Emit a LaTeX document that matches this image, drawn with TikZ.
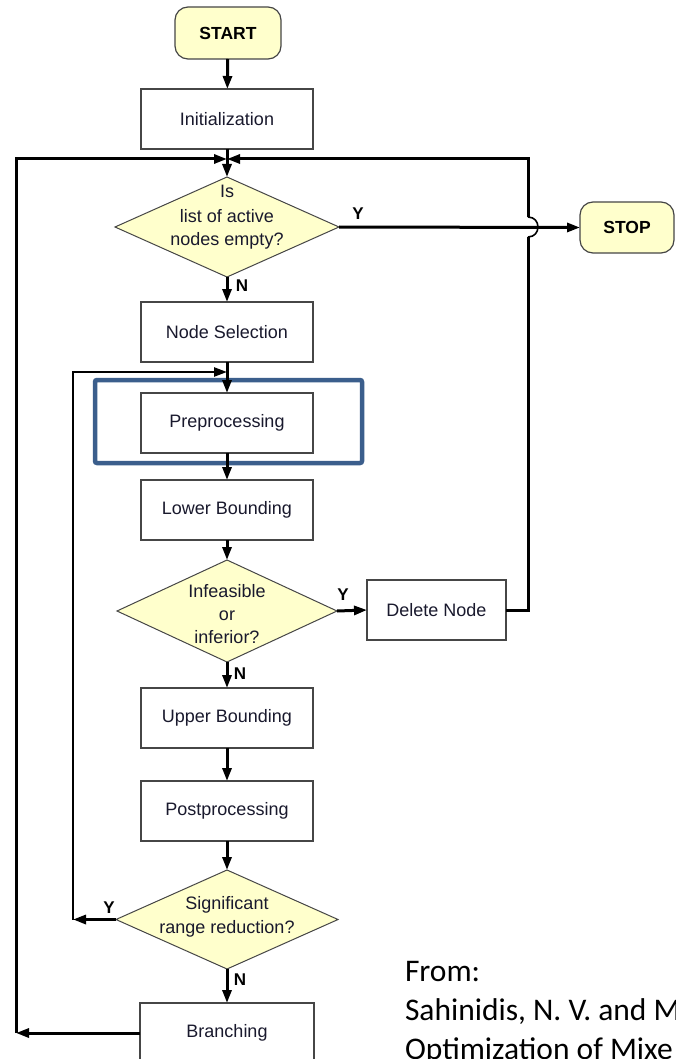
\documentclass[tikz,border=0pt]{standalone}
\usepackage{fontspec}
\setmainfont{Liberation Sans}
\newfontfamily\citefont{Carlito}
\usetikzlibrary{shapes.geometric,arrows.meta}
\definecolor{termfill}{RGB}{255,255,204}
\definecolor{boxline}{RGB}{70,70,70}
\definecolor{hilite}{RGB}{59,94,140}
\definecolor{boxtext}{RGB}{25,25,45}
\begin{document}
\begin{tikzpicture}[x=1pt,y=-1pt,
  every node/.style={inner sep=0pt,outer sep=0pt},
  proc/.style={draw=boxline,line width=1.2pt,fill=white,minimum width=172pt,minimum height=60pt,
    text=boxtext,font=\fontsize{18}{24}\selectfont},
  term/.style={draw=boxline,line width=1.2pt,fill=termfill,rounded corners=13pt,
    text=black,font=\bfseries\fontsize{17.5}{21}\selectfont},
  decision/.style={diamond,draw=boxline,line width=1pt,fill=termfill},
  qtext/.style={align=center,text=boxtext,font=\fontsize{18}{24}\selectfont},
  wire/.style={line width=3pt},
  flow/.style={line width=3pt,-{Triangle[length=13pt,width=9pt]}},
  lbl/.style={text=black,font=\bfseries\fontsize{17}{20}\selectfont},
  cite/.style={anchor=base west,text=black,font=\citefont\fontsize{31.5}{39}\selectfont}
]
\useasboundingbox (0,0) rectangle (675,1059);
\fill[white] (0,0) rectangle (675,1059);
\clip (0,0) rectangle (675,1059);

% terminals and process boxes
\node[term,minimum width=106pt,minimum height=52pt] (start) at (228,33) {START};
\node[proc] (init) at (227,119) {Initialization};
\node[decision,minimum width=224pt,minimum height=100pt] (d1) at (227,227) {};
\node[qtext,anchor=base] (d1t) at (227,246) {Is\\list of active\\nodes empty?};
\node[term,minimum width=94pt,minimum height=51pt] (stop) at (627,227.5) {STOP};
\node[proc] (sel) at (227,332) {Node Selection};

% highlight frame around the preprocessing step
\node[draw=hilite,line width=4.5pt,rounded corners=2pt,minimum width=267pt,minimum height=83pt]
  (frame) at (228.5,421.5) {};
\node[proc] (pre) at (227,423) {Preprocessing};
\node[proc] (lb) at (227,510) {Lower Bounding};
\node[decision,minimum width=220pt,minimum height=102pt] (d2) at (227,611) {};
\node[qtext,anchor=base,font=\fontsize{18}{23}\selectfont] (d2t) at (227,643) {Infeasible\\or\\inferior?};
\node[proc,minimum width=139pt] (del) at (436.5,610) {Delete Node};
\node[proc] (ub) at (227,718) {Upper Bounding};
\node[proc] (post) at (227,811) {Postprocessing};
\node[decision,minimum width=222pt,minimum height=99pt] (d3) at (227,919.5) {};
\node[qtext,anchor=base] (d3t) at (227,933) {Significant\\range reduction?};
\node[proc,minimum width=174pt] (br) at (227,1033) {Branching};

% junctions and bends
\coordinate (j1) at (227,159);
\coordinate (j2) at (227,372);
\coordinate (lcorner) at (16,1033);
\coordinate (icorner) at (73,919.5);
\coordinate (rcorner) at (528,610);
\coordinate (hopbot) at (528,237);
\coordinate (hoptop) at (528,217);

% main flow
\draw[flow] (start) -- (init);
\draw[wire] (init) -- (j1);
\draw[flow] (j1) -- (d1.north);
\draw[flow] (d1.east) -- (stop.west);
\draw[flow] (d1.south) -- (sel.north);
\draw[wire] (sel) -- (j2);
\draw[flow] (j2) -- (pre.north);
\draw[flow] (pre) -- (lb);
\draw[flow] (lb) -- (d2.north);
\draw[flow] (d2.east) -- (del.west);
\draw[flow] (d2.south) -- (ub.north);
\draw[flow] (ub) -- (post);
\draw[flow] (post) -- (d3.north);
\draw[flow] (d3.south) -- (br.north);

% loop back from Delete Node, hopping over the STOP line
\draw[wire] (del.east) -- (rcorner) -- (hopbot);
\draw[line width=1.6pt] (hopbot) .. controls +(13.3,0) and +(13.3,0) .. (hoptop);
\draw[flow] (hoptop) |- (j1);

% loop back from range reduction test
\draw[flow] (d3.west) -- (icorner);
\draw[flow,line width=2.4pt] (icorner) |- (j2);

% loop back from Branching
\draw[flow] (br.west) -- (lcorner);
\draw[flow] (lcorner) |- (j1);

% branch labels
\node[lbl] (y1) at (358,214) {Y};
\node[lbl] (n1) at (242,286) {N};
\node[lbl] (y2) at (343,595) {Y};
\node[lbl] (n2) at (240,674) {N};
\node[lbl] (y3) at (109,908) {Y};
\node[lbl] (n3) at (240,980) {N};

% reference note
\node[cite] (c1) at (405,981) {From:};
\node[cite] (c2) at (405,1020) {Sahinidis, N. V. and M};
\node[cite] (c3) at (405,1059) {Optimization of Mixe};
\end{tikzpicture}
\end{document}
